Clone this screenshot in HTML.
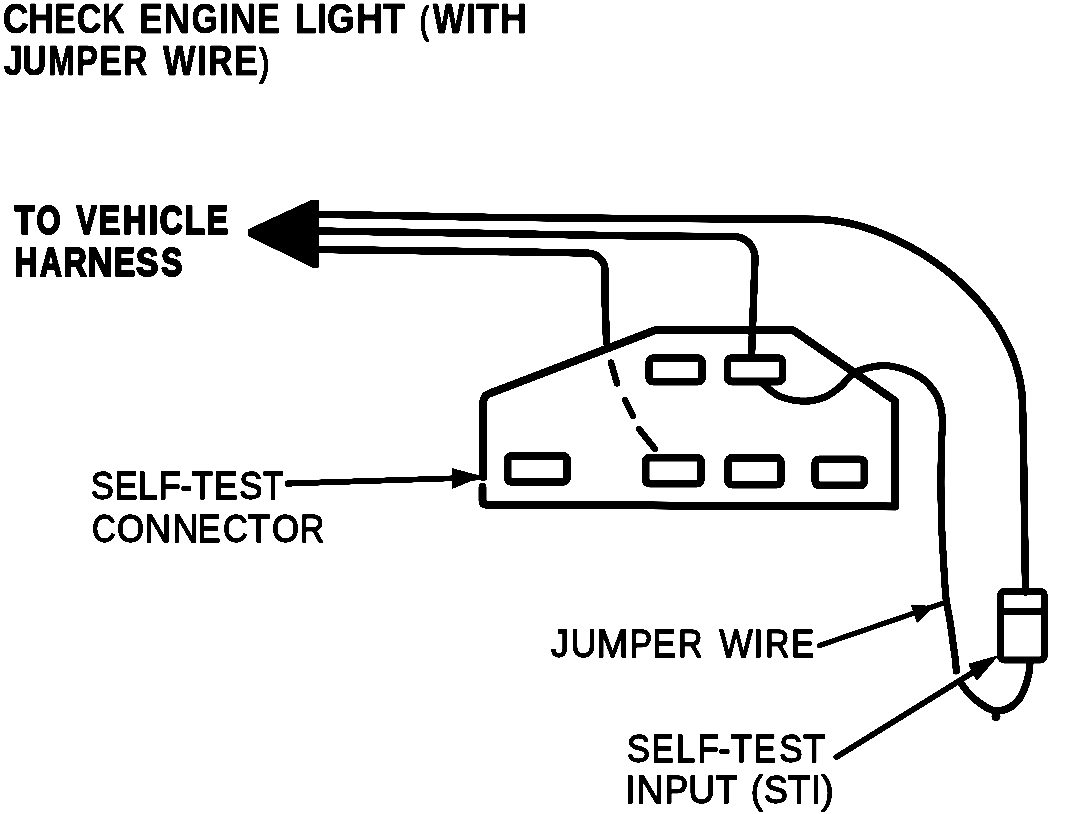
<!DOCTYPE html>
<html><head><meta charset="utf-8"><style>
html,body{margin:0;padding:0;background:#fff;}
body{width:1072px;height:814px;overflow:hidden;position:relative;}
svg{position:absolute;left:0;top:0;display:block;filter:grayscale(1) contrast(12);}
text{font-family:"Liberation Sans",sans-serif;fill:#000;stroke:#000;stroke-linejoin:round;}
.b,.h{font-weight:bold;}
.bp{font-weight:normal;}
.r{font-weight:normal;}
.b{stroke-width:0.8px;font-size:42.3px;}.bp{stroke-width:2.4px;font-size:37px;}.h{stroke-width:2.2px;font-size:41.5px;}.r{stroke-width:1.4px;font-size:39.7px;}
</style></head><body>
<svg width="1072" height="814" viewBox="0 0 1072 814">
<rect width="1072" height="814" fill="#fff"/>
<g>

<text class="b" transform="translate(2.80 32.80) scale(0.8456 1)">C</text>
<text class="b" transform="translate(27.95 32.80) scale(0.8521 1)">H</text>
<text class="b" transform="translate(54.15 32.80) scale(0.7724 1)">E</text>
<text class="b" transform="translate(76.85 32.80) scale(0.8070 1)">C</text>
<text class="b" transform="translate(102.47 32.80) scale(0.7189 1)">K</text>
<text class="b" transform="translate(139.24 32.80) scale(0.8171 1)">E</text>
<text class="b" transform="translate(163.51 32.80) scale(0.8716 1)">N</text>
<text class="b" transform="translate(191.46 32.80) scale(0.7993 1)">G</text>
<text class="b" transform="translate(218.72 32.80) scale(0.8689 1)">I</text>
<text class="b" transform="translate(229.51 32.80) scale(0.8716 1)">N</text>
<text class="b" transform="translate(257.16 32.80) scale(0.8089 1)">E</text>
<text class="b" transform="translate(294.86 32.80) scale(0.8489 1)">L</text>
<text class="b" transform="translate(316.91 32.80) scale(0.8698 1)">I</text>
<text class="b" transform="translate(327.01 32.80) scale(0.8367 1)">G</text>
<text class="b" transform="translate(355.99 32.80) scale(0.8794 1)">H</text>
<text class="b" transform="translate(382.81 32.80) scale(0.8638 1)">T</text>
<text class="bp" transform="translate(420.12 32.80) scale(0.7049 1)">(</text>
<text class="b" transform="translate(432.64 32.80) scale(0.8005 1)">W</text>
<text class="b" transform="translate(465.83 32.80) scale(0.8831 1)">I</text>
<text class="b" transform="translate(475.91 32.80) scale(0.8949 1)">T</text>
<text class="b" transform="translate(499.84 32.80) scale(0.8988 1)">H</text>
<text class="b" transform="translate(3.65 74.80) scale(0.8213 1)">J</text>
<text class="b" transform="translate(22.22 74.80) scale(0.7985 1)">U</text>
<text class="b" transform="translate(48.08 74.80) scale(0.7599 1)">M</text>
<text class="b" transform="translate(76.26 74.80) scale(0.7661 1)">P</text>
<text class="b" transform="translate(99.07 74.80) scale(0.8049 1)">E</text>
<text class="b" transform="translate(123.20 74.80) scale(0.7899 1)">R</text>
<text class="b" transform="translate(163.04 74.80) scale(0.8153 1)">W</text>
<text class="b" transform="translate(197.00 74.80) scale(0.8554 1)">I</text>
<text class="b" transform="translate(207.96 74.80) scale(0.8080 1)">R</text>
<text class="b" transform="translate(233.52 74.80) scale(0.8659 1)">E</text>
<text class="bp" transform="translate(259.77 74.80) scale(0.7438 1)">)</text>
<text class="h" transform="translate(14.38 233.90) scale(0.7932 1)">T</text>
<text class="h" transform="translate(36.45 233.90) scale(0.7452 1)">O</text>
<text class="h" transform="translate(76.38 233.90) scale(0.7270 1)">V</text>
<text class="h" transform="translate(98.68 233.90) scale(0.7765 1)">E</text>
<text class="h" transform="translate(122.99 233.90) scale(0.7707 1)">H</text>
<text class="h" transform="translate(148.16 233.90) scale(0.8435 1)">I</text>
<text class="h" transform="translate(159.64 233.90) scale(0.7645 1)">C</text>
<text class="h" transform="translate(184.62 233.90) scale(0.8128 1)">L</text>
<text class="h" transform="translate(206.79 233.90) scale(0.7725 1)">E</text>
<text class="h" transform="translate(14.51 276.30) scale(0.7594 1)">H</text>
<text class="h" transform="translate(40.10 276.30) scale(0.7267 1)">A</text>
<text class="h" transform="translate(63.69 276.30) scale(0.7684 1)">R</text>
<text class="h" transform="translate(87.71 276.30) scale(0.8195 1)">N</text>
<text class="h" transform="translate(114.11 276.30) scale(0.7608 1)">E</text>
<text class="h" transform="translate(136.02 276.30) scale(0.8081 1)">S</text>
<text class="h" transform="translate(161.22 276.30) scale(0.7601 1)">S</text>
<text class="r" transform="translate(90.95 498.70) scale(0.8601 1)">S</text>
<text class="r" transform="translate(114.65 498.70) scale(0.8646 1)">E</text>
<text class="r" transform="translate(137.68 498.70) scale(0.8942 1)">L</text>
<text class="r" transform="translate(158.51 498.70) scale(0.9183 1)">F</text>
<text class="r" transform="translate(180.42 498.70) scale(0.8989 1)">-</text>
<text class="r" transform="translate(191.82 498.70) scale(0.8782 1)">T</text>
<text class="r" transform="translate(213.64 498.70) scale(0.9083 1)">E</text>
<text class="r" transform="translate(239.14 498.70) scale(0.8765 1)">S</text>
<text class="r" transform="translate(263.03 498.70) scale(0.8319 1)">T</text>
<text class="r" transform="translate(92.03 541.70) scale(0.8264 1)">C</text>
<text class="r" transform="translate(116.95 541.70) scale(0.8772 1)">O</text>
<text class="r" transform="translate(144.82 541.70) scale(0.9149 1)">N</text>
<text class="r" transform="translate(172.21 541.70) scale(0.9191 1)">N</text>
<text class="r" transform="translate(197.85 541.70) scale(0.8646 1)">E</text>
<text class="r" transform="translate(223.08 541.70) scale(0.8642 1)">C</text>
<text class="r" transform="translate(247.51 541.70) scale(0.9328 1)">T</text>
<text class="r" transform="translate(271.95 541.70) scale(0.8772 1)">O</text>
<text class="r" transform="translate(299.91 541.70) scale(0.8434 1)">R</text>
<text class="r" transform="translate(550.89 656.70) scale(0.9153 1)">J</text>
<text class="r" transform="translate(570.66 656.70) scale(0.8912 1)">U</text>
<text class="r" transform="translate(596.48 656.70) scale(0.9677 1)">M</text>
<text class="r" transform="translate(629.80 656.70) scale(0.8444 1)">P</text>
<text class="r" transform="translate(652.61 656.70) scale(0.8821 1)">E</text>
<text class="r" transform="translate(677.88 656.70) scale(0.8554 1)">R</text>
<text class="r" transform="translate(719.44 656.70) scale(0.8857 1)">W</text>
<text class="r" transform="translate(753.32 656.70) scale(0.9157 1)">I</text>
<text class="r" transform="translate(764.88 656.70) scale(0.8554 1)">R</text>
<text class="r" transform="translate(791.12 656.70) scale(0.8777 1)">E</text>
<text class="r" transform="translate(626.94 762.20) scale(0.8683 1)">S</text>
<text class="r" transform="translate(651.84 762.20) scale(0.8297 1)">E</text>
<text class="r" transform="translate(675.79 762.20) scale(0.8889 1)">L</text>
<text class="r" transform="translate(697.74 762.20) scale(0.8702 1)">F</text>
<text class="r" transform="translate(718.28 762.20) scale(0.9276 1)">-</text>
<text class="r" transform="translate(730.82 762.20) scale(0.8782 1)">T</text>
<text class="r" transform="translate(754.04 762.20) scale(0.8297 1)">E</text>
<text class="r" transform="translate(779.33 762.20) scale(0.8807 1)">S</text>
<text class="r" transform="translate(803.02 762.20) scale(0.9202 1)">T</text>
<text class="r" transform="translate(625.22 802.70) scale(0.9422 1)">I</text>
<text class="r" transform="translate(636.57 802.70) scale(0.9362 1)">N</text>
<text class="r" transform="translate(664.70 802.70) scale(0.8844 1)">P</text>
<text class="r" transform="translate(688.35 802.70) scale(0.9372 1)">U</text>
<text class="r" transform="translate(715.62 802.70) scale(0.8950 1)">T</text>
<text class="r" transform="translate(750.72 802.70) scale(0.9197 1)">(</text>
<text class="r" transform="translate(764.11 802.70) scale(0.8971 1)">S</text>
<text class="r" transform="translate(787.82 802.70) scale(0.9244 1)">T</text>
<text class="r" transform="translate(810.90 802.70) scale(0.9197 1)">I</text>
<text class="r" transform="translate(821.60 802.70) scale(0.9197 1)">)</text>
</g>
<g fill="none" stroke="#000" stroke-width="7.5" stroke-linecap="round" stroke-linejoin="round">
<path d="M316 214.3 L500 217.5 L640 218.6 L813.5 219.3 C903.9 219.3 1022.6 306.1 1022.6 405.9 L1023.4 440 L1025.5 592"/>
<path d="M316 231.1 L500 233.5 L640 235.9 L733 236.6 C746 236.6 755 246 755 259 L751.5 357"/>
<path d="M316 249.6 L500 251.7 L587 253 C597 253 605 261 605 271 L605 300 L606.5 342"/>
<path d="M482.5 487 L482.5 501 Q482.5 504.7 487 504.7 L895 506.6 L895 400.7 L793.3 330.3 L655 330.3 L489.5 393.6 Q483.3 396 483.3 402 L483.3 477" stroke-width="8"/>
<g stroke-width="7.8">
<rect x="507.6" y="455.9" width="59.4" height="25.9" rx="4"/>
<rect x="649.2" y="358.2" width="52.8" height="23.5" rx="4"/>
<rect x="727.5" y="358.2" width="55" height="23.3" rx="4"/>
<rect x="645.6" y="457.6" width="55.3" height="26.1" rx="4"/>
<rect x="727.9" y="458" width="53" height="26.6" rx="4"/>
<rect x="815.2" y="459.3" width="49.2" height="26" rx="4"/>
</g>
<path d="M611 362.5 L617 383.5 M625 400 L633 416 M639 429 L655 449" stroke-width="6.5"/>
<path d="M763.0 384.0 C764.2 385.0 767.2 387.9 770.0 390.0 C772.8 392.1 775.8 394.8 780.0 396.5 C784.2 398.2 790.0 399.8 795.0 400.5 C800.0 401.2 805.0 401.5 810.0 400.9 C815.0 400.3 820.0 399.3 825.0 397.0 C830.0 394.7 835.0 391.1 840.0 387.0 C845.0 382.9 849.2 375.9 855.0 372.5 C860.8 369.1 869.2 367.5 875.0 366.4 C880.8 365.3 885.0 365.4 890.0 366.0 C895.0 366.6 900.0 367.9 905.0 369.7 C910.0 371.5 915.8 374.2 920.0 376.9 C924.2 379.6 927.1 382.4 930.0 385.8 C932.9 389.2 935.6 393.0 937.5 397.0 C939.4 401.0 940.7 405.3 941.5 410.0 C942.3 414.7 942.3 419.2 942.3 425.0 C942.3 430.8 941.7 437.5 941.5 445.0 C941.3 452.5 941.1 461.7 941.0 470.0 C940.9 478.3 940.9 486.7 941.0 495.0 C941.1 503.3 941.3 512.5 941.5 520.0 C941.7 527.5 942.0 533.3 942.3 540.0 C942.6 546.7 943.1 553.3 943.5 560.0 C943.9 566.7 944.1 573.3 944.6 580.0 C945.1 586.7 945.3 593.3 946.2 600.0 C947.1 606.7 948.7 613.3 949.8 620.0 C950.9 626.7 951.7 633.3 952.6 640.0 C953.5 646.7 954.8 654.8 955.4 660.0 C956.0 665.2 956.1 669.2 956.3 671.0" stroke-width="7.2"/>
<rect x="1000.5" y="591.4" width="43.7" height="68.5" rx="3.5" stroke-width="7"/>
<path d="M1001 611.2 L1044 611.2" stroke-width="7"/>
<path d="M960.5 682.5 C961.4 683.8 963.7 687.3 966.0 690.0 C968.3 692.7 970.9 695.9 974.5 698.9 C978.1 701.9 983.4 705.9 987.4 707.9 C991.4 709.9 994.5 711.0 998.2 710.9 C1001.9 710.8 1006.2 709.6 1009.8 707.5 C1013.4 705.4 1016.9 702.3 1019.6 698.4 C1022.3 694.5 1024.5 688.6 1026.1 684.2 C1027.7 679.8 1028.4 675.9 1029.1 672.2 C1029.8 668.5 1029.8 663.7 1030.0 662.0" stroke-width="7.3"/>
<path d="M287.5 483.5 L483 477.4" stroke-width="5.8" stroke-linecap="butt"/>
<path d="M290 483.4 L288 483.5" stroke-width="6.5"/>
<path d="M819.5 645.5 L942 603.5" stroke-width="5.5"/>
<path d="M836.5 757 L976 670.5" stroke-width="6"/>
</g>
<g fill="#000" stroke="#000" stroke-width="2" stroke-linejoin="round">
<path d="M249 230 L311 201.1 L317.8 201.1 L318 266.8 L313 266.8 L249 235.3 Z"/>
<path d="M452.5 469 L480 476.5 L452.5 488 Z" stroke-width="1.5"/>
<path d="M912 605.5 L932 607 L917.5 621.5 Z"/>
<path d="M969.5 664.5 L996 657 L976.7 679.5 Z"/>
<ellipse cx="996" cy="716.5" rx="4.5" ry="5" stroke="none"/>
</g>
</svg>
</body></html>
